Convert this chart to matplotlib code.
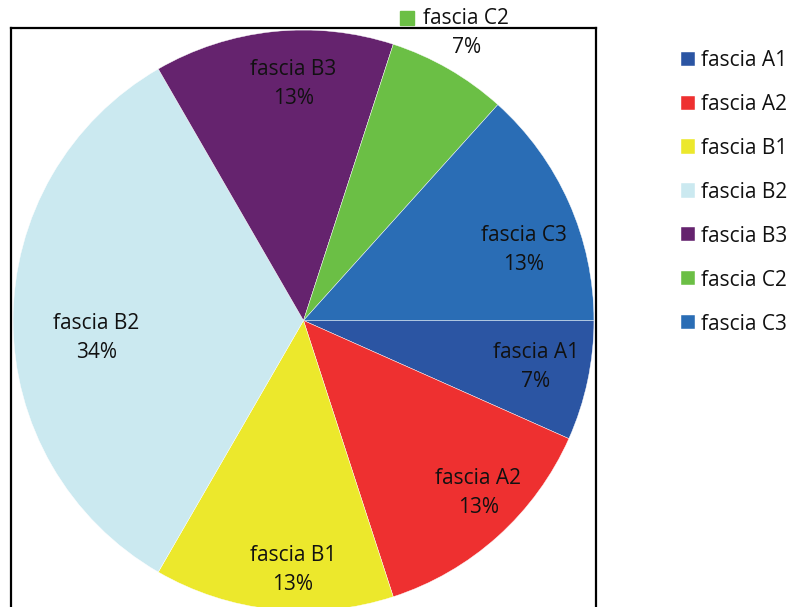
import matplotlib
matplotlib.use("Agg")
import matplotlib.pyplot as plt
import matplotlib.transforms as mtransforms
import numpy as np

plt.rcParams['font.family'] = ['Open Sans', 'DejaVu Sans']

categories = ["fascia A1", "fascia A2", "fascia B1", "fascia B2", "fascia B3", "fascia C2", "fascia C3"]
values = [1, 2, 2, 5, 2, 1, 2]
pct_labels = ["7%", "13%", "13%", "34%", "13%", "7%", "13%"]
colors = ["#2B55A3", "#EE3030", "#ECE82C", "#CBE9F0", "#65236E", "#6BBF45", "#2A6DB5"]

# label placement (radial factor, angular shift in degrees)
label_r = [0.81, 0.84, 0.855, 0.71, 0.81, 1.13, 0.79]
label_dang = [0.7, 3.3, 3.6, 4.8, -3.5, 0.5, -6.2]

W, H = 789, 607
fig = plt.figure(figsize=(W / 100, H / 100), dpi=100)
ax = fig.add_axes([11 / W, (H - 28 - 585) / H, 585 / W, 585 / H])

wedges, _ = ax.pie(values, colors=colors, startangle=0, counterclock=False,
                   radius=0.993, wedgeprops=dict(edgecolor='white', linewidth=0.3))
ax.set_xlim(-1, 1)
ax.set_ylim(-1, 1)
ax.set_aspect('equal')
ax.set_frame_on(True)
for s in ax.spines.values():
    s.set_linewidth(1.6)
    s.set_color('black')
ax.set_xticks([])
ax.set_yticks([])

for i, w in enumerate(wedges):
    mid = np.deg2rad((w.theta1 + w.theta2) / 2 + label_dang[i])
    x = label_r[i] * np.cos(mid)
    y = label_r[i] * np.sin(mid)
    ax.text(x, y, categories[i] + "\n" + pct_labels[i], ha='center', va='center',
            fontsize=15, linespacing=1.5, color='#111111', clip_on=False)
    if label_r[i] > 1:
        tr = mtransforms.offset_copy(ax.transData, fig=fig, x=-59.5 * 0.72, y=15 * 0.72, units='points')
        ax.plot([x], [y], marker='s', markersize=10, color=colors[i], transform=tr,
                clip_on=False, linestyle='none')

leg = fig.legend(handles=wedges, labels=categories, loc='upper left',
                 bbox_to_anchor=(681 / W, 1 - 50 / H), frameon=False, fontsize=15,
                 handlelength=0.67, handleheight=0.67, handletextpad=0.3,
                 labelspacing=1.1, borderpad=0, borderaxespad=0)
for t in leg.get_texts():
    t.set_color('#111111')

fig.savefig("out.png", dpi=100)
